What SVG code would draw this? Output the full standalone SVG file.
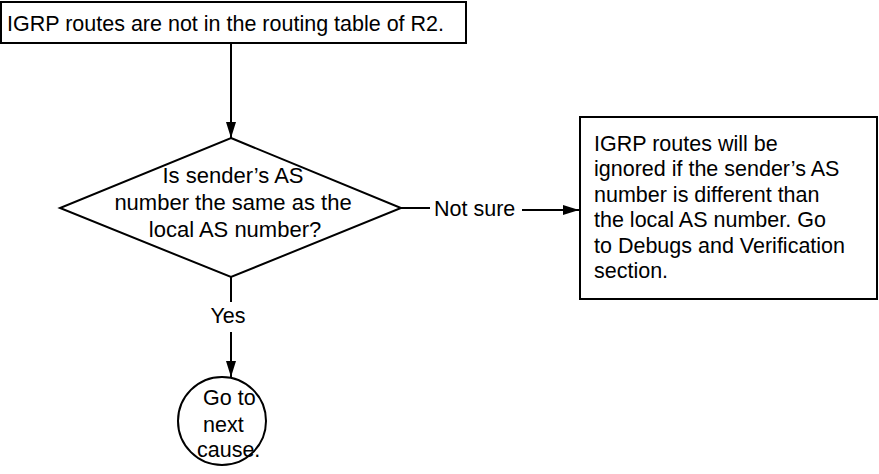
<svg xmlns="http://www.w3.org/2000/svg" width="879" height="474" viewBox="0 0 879 474">
<style>
.shape{fill:#fff;stroke:#000;stroke-width:2}
.t{font-family:"Liberation Sans",Arial,sans-serif;font-size:21.5px;fill:#000}
.d{font-size:22px}
.c{text-anchor:middle}
.line{stroke:#000;stroke-width:2;fill:none}
</style>
<defs>
<marker id="ah" markerWidth="16" markerHeight="10" refX="16" refY="5" orient="auto" markerUnits="userSpaceOnUse">
<path d="M0,0 L16,5 L0,10 Z" fill="#000"/>
</marker>
</defs>
<g id="connectors">
<line class="line" x1="231" y1="44" x2="231" y2="138" marker-end="url(#ah)"/>
<line class="line" x1="401" y1="208" x2="430" y2="208"/>
<line class="line" x1="522" y1="210" x2="579" y2="210" marker-end="url(#ah)"/>
<line class="line" x1="231" y1="277" x2="231" y2="302"/>
<line class="line" x1="231" y1="332" x2="231" y2="377" marker-end="url(#ah)"/>
<text class="t" x="434" y="216">Not sure</text>
<text class="t c" x="228" y="323">Yes</text>
</g>
<g id="start">
<rect class="shape" x="1" y="2" width="465" height="41"/>
<text class="t" x="7" y="31">IGRP routes are not in the routing table of R2.</text>
</g>
<g id="decision">
<polygon class="shape" points="231,138 401,208 231,277 60,208"/>
<text class="t d c" x="233" y="183">Is sender’s AS</text>
<text class="t d c" x="233" y="210">number the same as the</text>
<text class="t d c" x="235" y="237">local AS number?</text>
</g>
<g id="notsure">
<rect class="shape" x="580" y="117" width="297" height="182"/>
<text class="t" x="594" y="151">IGRP routes will be</text>
<text class="t" x="594" y="176">ignored if the sender’s AS</text>
<text class="t" x="594" y="202">number is different than</text>
<text class="t" x="594" y="227">the local AS number. Go</text>
<text class="t" x="594" y="253">to Debugs and Verification</text>
<text class="t" x="594" y="278">section.</text>
</g>
<g id="next">
<circle class="shape" cx="222" cy="421" r="44"/>
<text class="t" x="203" y="405">Go to</text>
<text class="t" x="203" y="432">next</text>
<text class="t" x="197" y="457">cause.</text>
</g>
</svg>
